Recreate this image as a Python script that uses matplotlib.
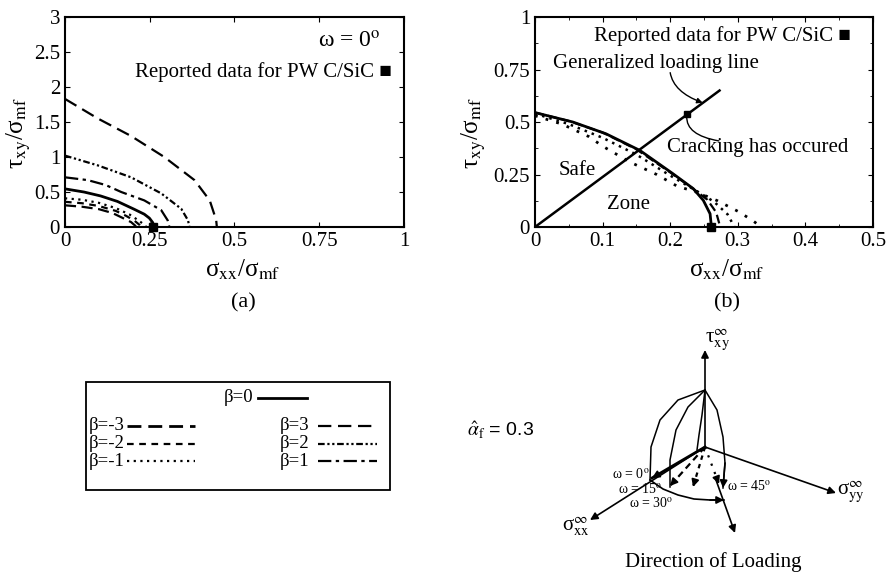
import numpy as np
import matplotlib as mpl
import matplotlib.pyplot as plt
from matplotlib.patches import Rectangle
from matplotlib.ticker import FuncFormatter, MultipleLocator

mpl.rc('font', family=['Liberation Serif', 'DejaVu Sans'], size=14)
mpl.rc('mathtext', fontset='stix')
mpl.rc('xtick', direction='in', top=True, labelsize=15)
mpl.rc('ytick', direction='in', right=True, labelsize=15)
mpl.rc('lines', linewidth=1.5)
mpl.rcParams['axes.linewidth'] = 1.5

# ---- (a) failure envelopes, omega = 0, one per beta
sxx_p3 = [0.0, 0.097, 0.195, 0.293, 0.382, 0.427, 0.446, 0.448]
txy_p3 = [1.83, 1.55, 1.30, 1.00, 0.67, 0.38, 0.10, 0.0]
sxx_p2 = [0.0, 0.097, 0.195, 0.284, 0.343, 0.363, 0.367]
txy_p2 = [1.02, 0.88, 0.71, 0.48, 0.26, 0.095, 0.0]
sxx_p1 = [0.0, 0.067, 0.12, 0.166, 0.234, 0.284, 0.303, 0.308]
txy_p1 = [0.71, 0.67, 0.60, 0.50, 0.38, 0.24, 0.095, 0.0]
sxx_0 = [0.0, 0.056, 0.105, 0.155, 0.204, 0.234, 0.249, 0.259, 0.261]
txy_0 = [0.545, 0.50, 0.444, 0.365, 0.254, 0.183, 0.127, 0.063, 0.0]
sxx_m1 = [0.0, 0.05, 0.10, 0.15, 0.19, 0.215, 0.232, 0.24]
txy_m1 = [0.41, 0.39, 0.345, 0.27, 0.18, 0.10, 0.04, 0.0]
sxx_m2 = [0.0, 0.05, 0.10, 0.15, 0.18, 0.205, 0.22, 0.225]
txy_m2 = [0.36, 0.34, 0.30, 0.23, 0.16, 0.09, 0.03, 0.0]
sxx_m3 = [0.0, 0.05, 0.10, 0.14, 0.17, 0.195, 0.207, 0.21]
txy_m3 = [0.31, 0.29, 0.255, 0.20, 0.13, 0.07, 0.02, 0.0]

# ---- (b) envelopes for the other loading directions
sxx_w15 = [0.0, 0.05, 0.10, 0.15, 0.20, 0.235, 0.255, 0.268, 0.274]
txy_w15 = [0.545, 0.505, 0.45, 0.37, 0.26, 0.18, 0.13, 0.07, 0.0]
sxx_w30 = [0.0, 0.05, 0.10, 0.15, 0.20, 0.24, 0.265, 0.285, 0.295]
txy_w30 = [0.54, 0.49, 0.425, 0.345, 0.245, 0.17, 0.12, 0.06, 0.0]
sxx_w45 = [0.0, 0.04, 0.08, 0.10, 0.14, 0.18, 0.21, 0.24, 0.27, 0.30, 0.32, 0.335]
txy_w45 = [0.53, 0.49, 0.43, 0.385, 0.31, 0.25, 0.195, 0.165, 0.125, 0.075, 0.035, 0.0]

sxx_load = [0.0, 0.273]
txy_load = [0.0, 0.65]
crack = (0.225, 0.54)
reported = (0.26, 0.0)

styles = {
    3: (0, (6, 3)),
    2: (0, (3, 1.2, 1, 1.2, 1, 1.2)),
    1: (0, (6, 2, 1.5, 2)),
    0: '-',
    -1: (0, (1, 2)),
    -2: (0, (3, 2.5)),
    -3: (0, (5, 2.5)),
}

fmt = FuncFormatter(lambda v, p: '%g' % v)

fig = plt.figure(figsize=(8.9, 5.75), dpi=100)

# overlay for the legend box and the loading sketch (pixel coords)
ov = fig.add_axes([0, 0, 1, 1])
ov.set_xlim(0, 890)
ov.set_ylim(575, 0)
ov.axis('off')

ax1 = fig.add_axes([0.0730, 0.6052, 0.3809, 0.3652])
for b, xs, ys in [(3, sxx_p3, txy_p3), (2, sxx_p2, txy_p2), (1, sxx_p1, txy_p1),
                  (0, sxx_0, txy_0), (-1, sxx_m1, txy_m1), (-2, sxx_m2, txy_m2),
                  (-3, sxx_m3, txy_m3)]:
    ax1.plot(xs, ys, color='k', ls=styles[b], lw=2.0 if b == 0 else 1.6)
ax1.plot(*reported, 's', color='k', ms=6, clip_on=False, zorder=5)
ax1.set_xlim(0, 1)
ax1.set_ylim(0, 3)
ax1.set_xticks([0, 0.25, 0.5, 0.75, 1])
ax1.set_yticks(np.arange(0, 3.01, 0.5))
ax1.xaxis.set_major_formatter(fmt)
ax1.yaxis.set_major_formatter(fmt)
ax1.set_xlabel('σ$_{\\rm xx}$/σ$_{\\rm mf}$', fontsize=18)
ax1.set_ylabel('τ$_{\\rm xy}$/σ$_{\\rm mf}$', fontsize=18)
ax1.xaxis.set_label_coords(0.525, -0.145)
ax1.yaxis.set_label_coords(-0.095, 0.45)
ax1.text(0.93, 0.88, 'ω = 0$^{\\rm o}$', transform=ax1.transAxes, ha='right', va='center', fontsize=17)
ax1.text(0.965, 0.74, 'Reported data for PW C/SiC ■', transform=ax1.transAxes,
         ha='right', va='center', fontsize=15)

ax2 = fig.add_axes([0.6011, 0.6052, 0.3798, 0.3652])
ax2.plot(sxx_0, txy_0, color='k', lw=2.0)
ax2.plot(sxx_w15, txy_w15, color='k', ls=(0, (4, 2)), lw=1.6)
ax2.plot(sxx_w30, txy_w30, color='k', ls=(0, (1, 2)), lw=1.8)
ax2.plot(sxx_w45, txy_w45, color='k', ls=(0, (1, 3)), lw=2.0)
ax2.plot(sxx_load, txy_load, color='k', lw=1.8)
ax2.plot(*crack, 's', color='k', ms=5)
ax2.plot(*reported, 's', color='k', ms=6, clip_on=False, zorder=5)
ax2.set_xlim(0, 0.5)
ax2.set_ylim(0, 1)
ax2.xaxis.set_major_locator(MultipleLocator(0.1))
ax2.xaxis.set_minor_locator(MultipleLocator(0.05))
ax2.yaxis.set_major_locator(MultipleLocator(0.25))
ax2.yaxis.set_minor_locator(MultipleLocator(0.125))
ax2.tick_params(which='minor', direction='in', top=True, right=True)
ax2.xaxis.set_major_formatter(fmt)
ax2.yaxis.set_major_formatter(fmt)
ax2.set_xlabel('σ$_{\\rm xx}$/σ$_{\\rm mf}$', fontsize=18)
ax2.set_ylabel('τ$_{\\rm xy}$/σ$_{\\rm mf}$', fontsize=18)
ax2.xaxis.set_label_coords(0.568, -0.145)
ax2.yaxis.set_label_coords(-0.14, 0.45)
ax2.text(0.935, 0.91, 'Reported data for PW C/SiC ■', transform=ax2.transAxes,
         ha='right', va='center', fontsize=15)
ax2.text(0.053, 0.78, 'Generalized loading line', transform=ax2.transAxes,
         ha='left', va='center', fontsize=15)
ax2.text(0.39, 0.38, 'Cracking has occured', transform=ax2.transAxes,
         ha='left', va='center', fontsize=15)
ax2.text(0.124, 0.27, 'Safe', transform=ax2.transAxes, ha='center', va='center', fontsize=15)
ax2.text(0.278, 0.105, 'Zone', transform=ax2.transAxes, ha='center', va='center', fontsize=15)
ax2.annotate('', xy=(0.248, 0.592), xytext=(0.2, 0.735),
             arrowprops=dict(arrowstyle='-|>', color='k', lw=1.0, shrinkA=0, shrinkB=0,
                             mutation_scale=8, connectionstyle='angle3,angleA=-80,angleB=-20'))
ax2.annotate('', xy=(0.272, 0.41), xytext=crack,
             arrowprops=dict(arrowstyle='-', color='k', lw=1.0, shrinkA=2, shrinkB=0,
                             connectionstyle='angle3,angleA=-100,angleB=-10'))

fig.text(243 / 890, 1 - 303 / 575, '(a)', ha='center', va='center', fontsize=16)
fig.text(727 / 890, 1 - 303 / 575, '(b)', ha='center', va='center', fontsize=16)

# ---- legend box
ov.add_patch(Rectangle((86, 382), 304, 108, fill=False, lw=1.3, color='k'))
leg_beta = [0, -3, -2, -1, 3, 2, 1]
leg_text_x = [253, 89, 89, 89, 280, 280, 280]
leg_line_x = [(258, 307), (127, 195), (127, 195), (127, 195), (318, 377), (318, 377), (318, 377)]
leg_y = [398, 426, 443.5, 461, 426, 443.5, 461]
for b, tx, (l0, l1), y in zip(leg_beta, leg_text_x, leg_line_x, leg_y):
    ov.text(tx, y, 'β=%d' % b, ha='right' if b == 0 else 'left', va='center', fontsize=13.5)
    ov.plot([l0, l1], [y, y], color='k', ls=styles[b], lw=2.0 if b in (0, -3) else 1.6)

# ---- loading direction sketch
O = (705, 447)
apex = (705, 390)
tau_tip = (705, 350)
sxx_tip = (590, 520)
syy_tip = (836, 493)
dir_tail, dir_tip = (716, 480), (735, 533)
arc_x = [650, 663, 678, 694, 710, 724]
arc_y = [480, 489, 495, 499, 500, 500]
mer_x = [[705, 678, 660, 651, 650], [705, 688, 676, 670, 670],
         [705, 702, 699, 697], [705, 717, 723, 725, 723]]
mer_y = [[390, 400, 420, 447, 480], [390, 407, 430, 460, 487],
         [390, 415, 435, 450], [390, 410, 437, 463, 488]]
rad_end = [(652, 478), (670, 486), (693, 487), (719, 484)]
rad_ls = ['-', (0, (3, 2)), (0, (2, 2)), (0, (1, 3))]

def arrow(p0, p1, lw=1.2, ms=11):
    ov.annotate('', xy=p1, xytext=p0,
                arrowprops=dict(arrowstyle='-|>', color='k', lw=lw, shrinkA=0, shrinkB=0,
                                mutation_scale=ms))

arrow(O, tau_tip)
arrow(O, sxx_tip)
arrow(O, syy_tip)
arrow(dir_tail, dir_tip)
ov.plot(arc_x, arc_y, color='k', lw=1.2)
arrow((arc_x[-2], arc_y[-2]), (arc_x[-1], arc_y[-1]))
for xs, ys in zip(mer_x, mer_y):
    ov.plot(xs, ys, color='k', lw=1.1)
arrow((mer_x[3][-2], mer_y[3][-2]), (mer_x[3][-1], mer_y[3][-1]))
for (ex, ey), ls in zip(rad_end, rad_ls):
    ov.plot([O[0], ex], [O[1], ey], color='k', ls=ls, lw=2.0 if ls == '-' else 1.6)
    dx, dy = ex - O[0], ey - O[1]
    n = np.hypot(dx, dy)
    arrow((ex - 4 * dx / n, ey - 4 * dy / n), (ex, ey))

ov.text(717, 340, 'τ$^{\\infty}_{\\rm xy}$', ha='center', va='center', fontsize=15)
ov.text(576, 527, 'σ$^{\\infty}_{\\rm xx}$', ha='center', va='center', fontsize=15)
ov.text(851, 492, 'σ$^{\\infty}_{\\rm yy}$', ha='center', va='center', fontsize=15)
ov.text(650, 474, 'ω = 0$^{\\rm o}$', ha='right', va='center', fontsize=10)
ov.text(640, 489, 'ω = 15$^{\\rm o}$', ha='center', va='center', fontsize=10)
ov.text(651, 503, 'ω = 30$^{\\rm o}$', ha='center', va='center', fontsize=10)
ov.text(727, 486, 'ω = 45$^{\\rm o}$', ha='left', va='center', fontsize=10)
ov.text(713, 562, 'Direction of Loading', ha='center', va='center', fontsize=15)
ov.text(467, 430, '$\\hat{\\alpha}_{\\rm f}$ = 0.3', ha='left', va='center', fontsize=14,
        family=['Liberation Sans', 'DejaVu Sans'])

fig.savefig('out.png', dpi=100)
